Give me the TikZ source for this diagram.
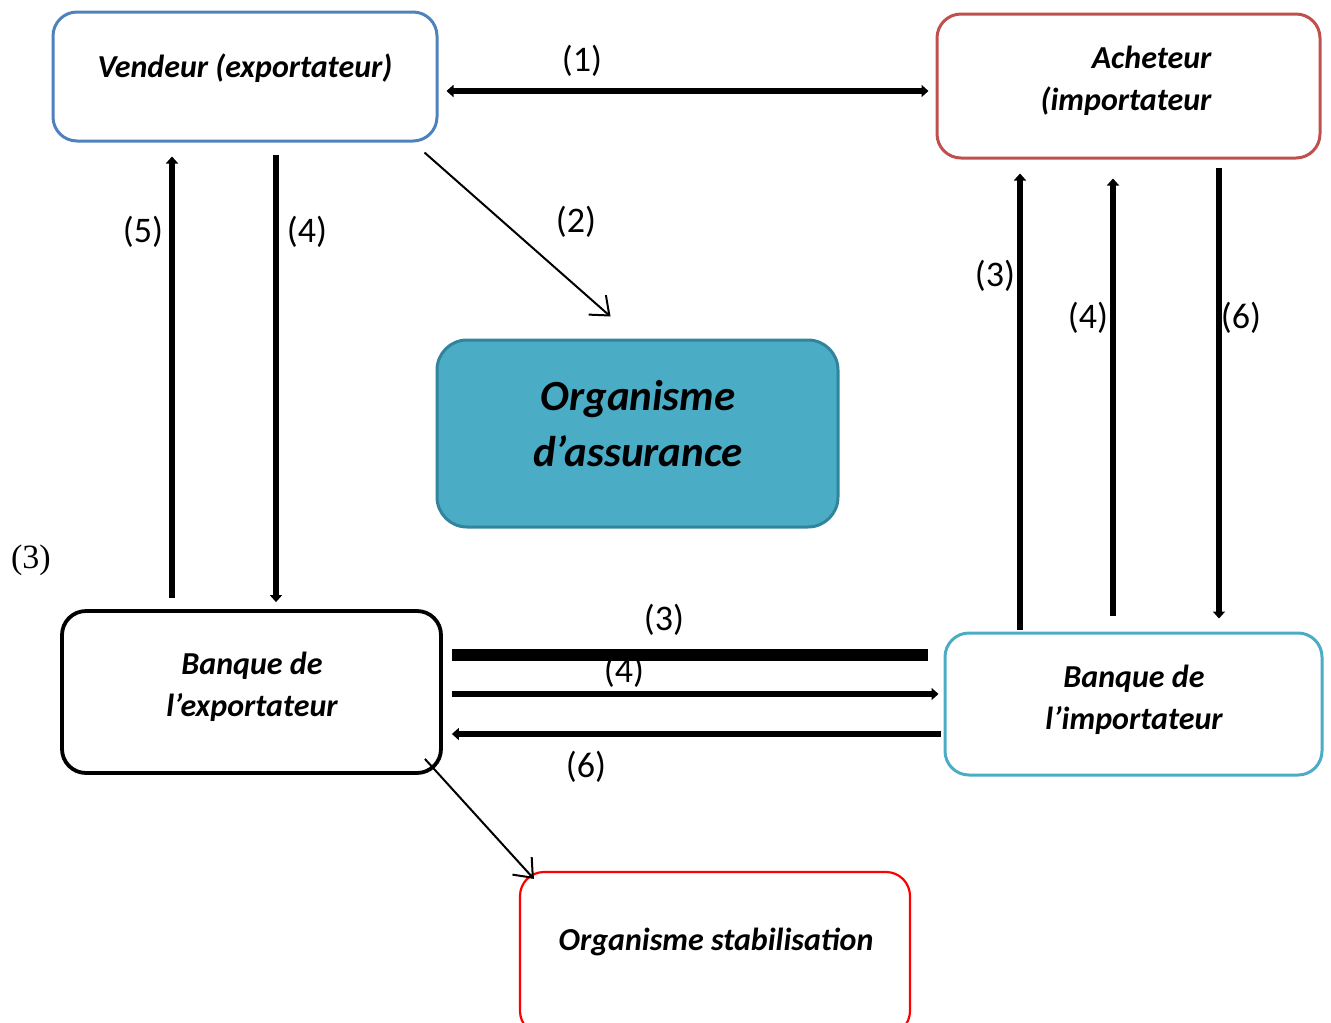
\documentclass[tikz,border=0pt]{standalone}
\usepackage{fontspec}
\setmainfont{Carlito}
\newfontfamily\serifmain{Liberation Serif}
\usetikzlibrary{arrows.meta}
\definecolor{vblue}{HTML}{4F81BD}
\definecolor{ared}{HTML}{C0504D}
\definecolor{aqua}{HTML}{4BACC6}
\definecolor{aquadark}{HTML}{31849B}
\tikzset{
  box/.style={rectangle, rounded corners=24pt, line width=3pt, inner sep=0pt},
  boxtext/.style={font=\fontsize{32}{42}\selectfont\bfseries\itshape, align=center, inner sep=0pt},
  lbl/.style={font=\fontsize{36}{40}\selectfont, inner sep=0pt},
  thickarr/.style={line width=5.5pt, -{Triangle[length=7pt,width=12pt]}},
  thinarr/.style={line width=2pt, -{Straight Barb[length=16pt,width=26pt,line width=2pt]}},
}
\begin{document}
\begin{tikzpicture}[x=1pt,y=-1pt]
\useasboundingbox (0,0) rectangle (1331,1023);
% boxes
\node[box, draw=vblue, minimum width=384pt, minimum height=129pt] (vend) at (245,76.5) {};
\node[boxtext] (vendt) at (245,68) {Vendeur (exportateur)};
\node[box, draw=ared, minimum width=383pt, minimum height=144pt] (ach) at (1128.5,86) {};
\node[boxtext, align=right] (acht) at (1126,81) {Acheteur\\(importateur};
\node[box, draw=aquadark, fill=aqua, minimum width=401pt, minimum height=187pt, rounded corners=30pt] (assur) at (637.5,433.5) {};
\node[boxtext, font=\fontsize{43}{56}\selectfont\bfseries\itshape] (assurt) at (638,424) {Organisme\\d’assurance};
\node[box, draw=black, line width=3.8pt, minimum width=379pt, minimum height=162pt] (bex) at (251.5,692) {};
\node[boxtext] (bext) at (252,687) {Banque de\\l’exportateur};
\node[box, draw=aqua, minimum width=377pt, minimum height=142pt] (bim) at (1133.5,704) {};
\node[boxtext] (bimt) at (1134,700) {Banque de\\l’importateur};
\node[box, draw=red, line width=2.2pt, minimum width=390pt, minimum height=163pt] (stab) at (715,953.5) {};
\node[boxtext] (stabt) at (716,942) {Organisme stabilisation};
% (1)
\draw[line width=5.5pt, {Triangle[length=7pt,width=12pt]}-{Triangle[length=7pt,width=12pt]}, shorten <=8pt, shorten >=7pt] (vend.east |- 0,91) -- (ach.west |- 0,91);
\node[lbl] (l1) at (582,61) {(1)};
% (2)
\draw[thinarr] ([shift={(-14,10)}]vend.south east) -- ([shift={(-27,-22)}]assur.north);
\node[lbl] (l2) at (576,222) {(2)};
% left verticals
\draw[thickarr, shorten <=11pt, shorten >=14pt] (bex.north -| 172,0) -- (vend.south -| 172,0);
\node[lbl] (l5) at (143,232) {(5)};
\draw[thickarr, shorten <=12pt, shorten >=7pt] (vend.south -| 276,0) -- (bex.north -| 276,0);
\node[lbl] (l4a) at (307,232) {(4)};
% right verticals
\draw[thickarr, shorten <=2pt, shorten >=14pt] (bim.north -| 1020,0) -- (ach.south -| 1020,0);
\node[lbl] (l3a) at (995,276) {(3)};
\draw[thickarr, shorten <=16pt, shorten >=19pt] (bim.north -| 1113,0) -- (ach.south -| 1113,0);
\node[lbl] (l4b) at (1088,318) {(4)};
\draw[thickarr, shorten <=8pt, shorten >=13pt] (ach.south -| 1219,0) -- (bim.north -| 1219,0);
\node[lbl] (l6a) at (1241,318) {(6)};
% horizontals
\draw[line width=12pt, shorten <=9pt, shorten >=16pt] (bex.east |- 0,655) -- (bim.west |- 0,655);
\node[lbl] (l3b) at (664,620) {(3)};
\draw[thickarr, shorten <=9pt, shorten >=5pt] (bex.east |- 0,694) -- (bim.west |- 0,694);
\node[lbl] (l4c) at (624,672) {(4)};
\draw[thickarr, shorten <=3pt, shorten >=9pt] (bim.west |- 0,734) -- (bex.east |- 0,734);
\node[lbl] (l6b) at (586,767) {(6)};
% to stabilisation
\draw[thinarr] ([shift={(-18,-16)}]bex.south east) -- ([shift={(15,8)}]stab.north west);
% stray label
\node[lbl, font=\serifmain\fontsize{34}{38}\selectfont] (l3c) at (31,560) {(3)};
\end{tikzpicture}
\end{document}
